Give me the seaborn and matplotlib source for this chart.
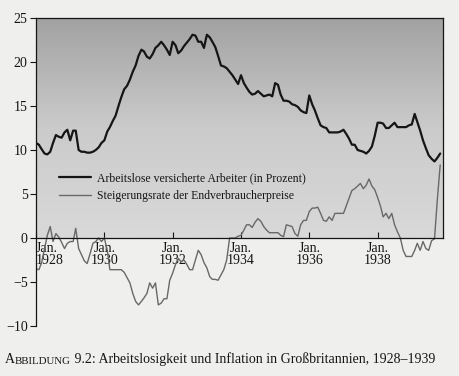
import numpy as np
import pandas as pd
import matplotlib.pyplot as plt
import matplotlib.dates as mdates
from matplotlib.colors import LinearSegmentedColormap
import seaborn as sns

# monthly values, Jan 1928 - Nov 1939
unemployment = [
    10.8, 10.6, 10.1, 9.6, 9.5, 9.8, 10.8, 11.7, 11.5, 11.4, 12.0, 12.3,
    11.1, 12.2, 12.2, 10.0, 9.8, 9.8, 9.7, 9.7, 9.8, 10.0, 10.3, 10.8,
    11.1, 12.1, 12.6, 13.3, 13.9, 15.0, 16.0, 16.9, 17.3, 18.0, 18.9, 19.6,
    20.7, 21.4, 21.2, 20.6, 20.4, 20.9, 21.6, 21.9, 22.3, 21.9, 21.4, 20.8,
    22.3, 21.9, 21.0, 21.3, 21.8, 22.2, 22.6, 23.1, 23.0, 22.3, 22.3, 21.6,
    23.1, 22.8, 22.3, 21.7, 20.7, 19.6, 19.5, 19.3, 18.9, 18.5, 18.0, 17.5,
    18.5, 17.6, 17.1, 16.6, 16.3, 16.4, 16.7, 16.4, 16.1, 16.2, 16.3, 16.1,
    17.6, 17.4, 16.3, 15.6, 15.6, 15.5, 15.2, 15.1, 14.9, 14.5, 14.3, 14.2,
    16.2, 15.2, 14.5, 13.6, 12.8, 12.6, 12.5, 12.0, 12.0, 12.0, 12.0, 12.1,
    12.3, 11.8, 11.3, 10.6, 10.6, 10.0, 9.9, 9.8, 9.6, 9.9, 10.4, 11.6,
    13.1, 13.1, 13.0, 12.5, 12.5, 12.8, 13.1, 12.6, 12.6, 12.6, 12.6, 12.8,
    12.9, 14.1, 13.2, 12.2, 11.1, 10.2, 9.4, 9.0, 8.7, 9.1, 9.6,
]
inflation = [
    -3.5, -3.6, -2.8, -1.2, 0.3, 1.3, -0.4, 0.5, 0.1, -0.5, -1.2, -0.6,
    -0.4, -0.4, 1.1, -1.2, -1.9, -2.6, -2.9, -1.8, -0.6, -0.4, 0.0, -0.4,
    0.0, -1.4, -3.6, -3.6, -3.6, -3.6, -3.6, -3.9, -4.5, -5.1, -6.3, -7.2,
    -7.6, -7.2, -6.8, -6.3, -5.1, -5.7, -5.1, -7.6, -7.4, -6.9, -6.9, -4.8,
    -4.0, -3.0, -2.3, -2.7, -2.5, -3.0, -3.6, -3.6, -2.5, -1.4, -1.9, -2.8,
    -3.4, -4.4, -4.7, -4.7, -4.8, -4.2, -3.6, -2.5, 0.0, 0.0, 0.0, 0.2,
    0.3, 0.9, 1.5, 1.5, 1.2, 1.8, 2.2, 1.9, 1.3, 0.9, 0.6, 0.6,
    0.6, 0.6, 0.3, 0.15, 1.5, 1.4, 1.3, 0.5, 0.2, 1.5, 2.0, 2.0,
    3.0, 3.4, 3.4, 3.5, 2.8, 2.0, 1.9, 2.4, 2.0, 2.8, 2.8, 2.8,
    2.8, 3.7, 4.5, 5.4, 5.6, 5.9, 6.2, 5.6, 6.0, 6.7, 5.9, 5.5,
    4.6, 3.6, 2.4, 2.8, 2.2, 2.8, 1.5, 0.7, 0.0, -1.4, -2.1, -2.1,
    -2.1, -1.4, -0.6, -1.4, -0.4, -1.2, -1.4, -0.3, -0.1, 4.3, 8.3,
]
tick_years = [1928, 1930, 1932, 1934, 1936, 1938]
y_ticks = [25, 20, 15, 10, 5, 0, -5, -10]

months = pd.date_range("1928-01-01", periods=len(unemployment), freq="MS")
df = pd.DataFrame({"month": months, "unemp": unemployment, "infl": inflation})

page = "#efefed"
ink = "#151515"

sns.set_style("ticks")
plt.rcParams["font.family"] = ["Liberation Serif", "DejaVu Serif"]
plt.rcParams["text.color"] = ink
plt.rcParams["xtick.color"] = ink
plt.rcParams["ytick.color"] = ink

fig = plt.figure(figsize=(4.6, 3.76), dpi=100, facecolor=page)
ax = fig.add_axes([36 / 460, 50 / 376, 407 / 460, 308 / 376])
ax.set_facecolor(page)

x0 = pd.Timestamp("1928-01-01")
x1 = pd.Timestamp("1939-12-01")

# shaded upper box (printed gray tone, darker at the top)
grad = np.linspace(0, 1, 200).reshape(-1, 1)
cmap = LinearSegmentedColormap.from_list("paper", ["#a2a2a2", "#cbcbcb", "#d9d9d9"])
ax.imshow(grad, cmap=cmap, aspect="auto", origin="upper",
          extent=[mdates.date2num(x0), mdates.date2num(x1), 0, 25], zorder=0)

sns.lineplot(data=df, x="month", y="infl", ax=ax, color="#686868", linewidth=1.0,
             label="Steigerungsrate der Endverbraucherpreise", zorder=2)
sns.lineplot(data=df, x="month", y="unemp", ax=ax, color=ink, linewidth=1.6,
             label="Arbeitslose versicherte Arbeiter (in Prozent)", zorder=3)

ax.set_xlim(x0, x1)
ax.set_ylim(-10, 25)
ax.set_xlabel("")
ax.set_ylabel("")

# spine moves reset the ticks, so do them first
ax.spines["bottom"].set_position(("data", 0))
ax.spines["right"].set_bounds(0, 25)
for s in ["bottom", "right", "top", "left"]:
    ax.spines[s].set_linewidth(0.9)
    ax.spines[s].set_color(ink)
    ax.spines[s].set_zorder(4)

ax.set_yticks(y_ticks)
ax.set_yticklabels([str(v).replace("-", "\u2212") for v in y_ticks], fontsize=10)
ax.tick_params(axis="y", direction="out", length=4, width=0.8, pad=2)

ax.set_xticks(pd.to_datetime([f"{y}-01-01" for y in tick_years]))
ax.set_xticklabels([f"Jan.\n{y}" for y in tick_years], fontsize=10, linespacing=0.85)
ax.tick_params(axis="x", direction="in", length=4, width=0.8, pad=3)
# first label sits right of the y axis
ax.get_xticklabels()[0].set_horizontalalignment("left")

handles, labels = ax.get_legend_handles_labels()
ax.legend(handles[::-1], labels[::-1], loc="upper left",
          bbox_to_anchor=(0.045, 0.515), frameon=False, fontsize=8.5,
          handlelength=2.7, handletextpad=0.5, labelspacing=0.5, borderaxespad=0)

# caption with small caps "Abbildung"
t1 = fig.text(5 / 460, 1 - 363 / 376, "A", fontsize=10, va="baseline", ha="left")
t2 = ax.annotate("BBILDUNG", xy=(1, 0), xycoords=t1, fontsize=7.8, va="bottom", ha="left")
ax.annotate(" 9.2: Arbeitslosigkeit und Inflation in Großbritannien, 1928\u20131939",
            xy=(1, 0), xycoords=t2, fontsize=10, va="bottom", ha="left")

fig.savefig("out.png", dpi=100, facecolor=page)
